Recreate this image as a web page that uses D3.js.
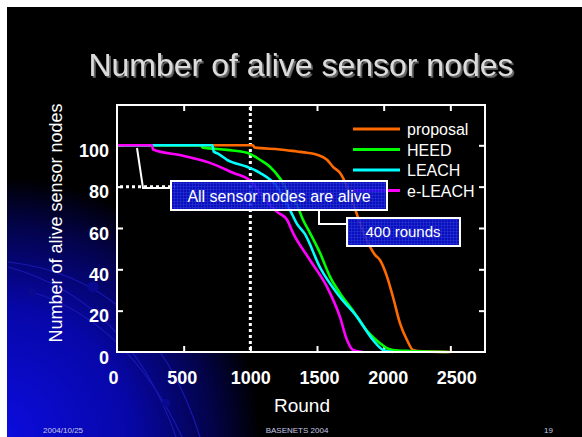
<!DOCTYPE html>
<html><head><meta charset="utf-8">
<script src="https://cdn.jsdelivr.net/npm/d3@7"></script>
<style>html,body{margin:0;padding:0;background:#000;}svg{display:block;font-family:"Liberation Sans",Arial,sans-serif;}</style>
</head><body><svg id="c" width="582" height="437"></svg>
<script>
// ---- data ----
const seriesNames = ["proposal", "HEED", "LEACH", "e-LEACH"];
const seriesColors = ["#ff6a00", "#00ff00", "#00ffff", "#ff00ff"];
const proposalRounds = [0,1020,1030,1222,1350,1425,1500,1575,1620,1672,1725,1770,1822,1860,1897,1935,1972,2025,2070,2122,2175,2220,2295,2500];
const proposalAlive  = [100,100,99,98,97,96.4,95.4,93,89.6,86.7,80,72,62.5,56,51,47,44.5,36.5,26.6,14,5.8,1,0.3,0];
const heedRounds = [0,630,640,825,975,1072,1147,1222,1297,1350,1395,1447,1522,1597,1672,1770,1870,1970,2020,2070,2200,2480];
const heedAlive  = [100,100,99,97.8,96.4,93,89.6,84,76,71,64,57.6,48,36.5,28.5,20,10.6,4.4,2,1,0.5,0];
const leachRounds = [0,715,725,757,825,975,1072,1200,1297,1350,1410,1522,1672,1800,1920,1995,2070];
const leachAlive  = [100,100,97,96,93,89.6,86.7,80,68.8,62,57,41,26.6,17,5.8,1,0];
const eleachRounds = [0,262,270,495,697,870,997,1125,1200,1275,1320,1447,1575,1672,1725,1770,1845];
const eleachAlive  = [100,100,98,95,91.5,86.7,83,72.6,67.8,64,57.6,44.5,31.5,17,5.8,1,0];
const xTicks = [0,500,1000,1500,2000,2500];
const yTicks = [0,20,40,60,80,100];
const titleText = "Number of alive sensor nodes";
const xTitle = "Round";
const yTitle = "Number of alive sensor nodes";
const markRound = 1000;   // vertical dotted line
const markAlive = 80;     // horizontal dotted line
const note1 = "All sensor nodes are alive";
const note2 = "400 rounds";
const footerLeft = "2004/10/25", footerMid = "BASENETS 2004", footerRight = "19";

const W = 582, H = 437;
const svg = d3.select("#c");
const defs = svg.append("defs");

// background
svg.append("rect").attr("width", W).attr("height", H).attr("fill", "#000");
const rg = defs.append("radialGradient").attr("id", "glow").attr("gradientUnits", "userSpaceOnUse")
  .attr("cx", 0).attr("cy", 437).attr("r", 260);
rg.append("stop").attr("offset", "0").attr("stop-color", "#0c0ce0");
rg.append("stop").attr("offset", "0.5").attr("stop-color", "#0707a8");
rg.append("stop").attr("offset", "0.82").attr("stop-color", "#030348");
rg.append("stop").attr("offset", "1").attr("stop-color", "#000");
svg.append("rect").attr("width", W).attr("height", H).attr("fill", "url(#glow)");
// decorative arcs
const arcs = [
  [[8,262],[150,278],[200,437]],
  [[8,267],[128,300],[176,437]],
  [[32,292],[128,322],[182,437]]
];
arcs.forEach(a => {
  const p = d3.path(); p.moveTo(...a[0]); p.quadraticCurveTo(...a[1], ...a[2]);
  svg.append("path").attr("d", p.toString()).attr("fill", "none").attr("stroke", "#1818b0").attr("stroke-width", 1.2);
});
[[93,287,5.5],[32,292,4],[166,403,4]].forEach(d => svg.append("circle").attr("cx", d[0]).attr("cy", d[1]).attr("r", d[2]).attr("fill", "#0a0a90"));
// white border strips
svg.append("rect").attr("x", 0).attr("y", 0).attr("width", W).attr("height", 7).attr("fill", "#fff");
svg.append("rect").attr("x", 0).attr("y", 0).attr("width", 7).attr("height", H).attr("fill", "#fff");

// title with embossed shadow
const sh = defs.append("filter").attr("id", "shadow").attr("x", "-5%").attr("y", "-20%").attr("width", "110%").attr("height", "140%");
sh.append("feDropShadow").attr("dx", 1.8).attr("dy", 1.8).attr("stdDeviation", 0.3).attr("flood-color", "#6a6a6a").attr("flood-opacity", 1);
svg.append("text").attr("x", 301).attr("y", 76).attr("text-anchor", "middle").attr("font-size", 32)
  .attr("fill", "#dcdcdc").attr("filter", "url(#shadow)").text(titleText);

// plot
const L = 117, R = 485, T = 105, B = 352;
const x = d3.scaleLinear().domain([0, 2760]).range([L, R]);
const y = d3.scaleLinear().domain([0, 119.5]).range([B, T]);
svg.append("rect").attr("x", L).attr("y", T).attr("width", R - L).attr("height", B - T).attr("fill", "#000");

// ticks (inward) on all sides
const tickStyle = g => { g.select(".domain").remove(); g.selectAll("line").attr("stroke", "#fff").attr("stroke-width", 2); g.selectAll("text").remove(); };
svg.append("g").attr("transform", `translate(0,${B})`).call(d3.axisTop(x).tickValues(xTicks.slice(1)).tickSize(6)).call(tickStyle);
svg.append("g").attr("transform", `translate(0,${T})`).call(d3.axisBottom(x).tickValues(xTicks.slice(1)).tickSize(6)).call(tickStyle);
svg.append("g").attr("transform", `translate(${L},0)`).call(d3.axisRight(y).tickValues(yTicks.slice(1)).tickSize(6)).call(tickStyle);
svg.append("g").attr("transform", `translate(${R},0)`).call(d3.axisLeft(y).tickValues(yTicks.slice(1)).tickSize(6)).call(tickStyle);

// tick labels
const labStyle = g => { g.select(".domain").remove(); g.selectAll("line").remove();
  g.selectAll("text").attr("fill", "#fff").attr("font-size", 18).attr("font-weight", "bold").attr("font-family", '"Liberation Sans",Arial,sans-serif'); };
svg.append("g").attr("transform", `translate(0,${B})`).call(d3.axisBottom(x).tickValues(xTicks).tickSize(0).tickPadding(19).tickFormat(d3.format("d"))).call(labStyle)
  .selectAll("text").attr("dx", d => (d / 2500) * 10 - 4);
svg.append("g").attr("transform", `translate(${L},0)`).call(d3.axisLeft(y).tickValues(yTicks).tickSize(0).tickPadding(8).tickFormat(d3.format("d"))).call(labStyle)
  .selectAll("text").attr("dy", "0.62em");

// axis titles
svg.append("text").attr("x", 302).attr("y", 412).attr("text-anchor", "middle").attr("font-size", 19).attr("fill", "#fff").text(xTitle);
svg.append("text").attr("transform", "translate(62,223) rotate(-90)").attr("text-anchor", "middle").attr("font-size", 18).attr("fill", "#fff").text(yTitle);

// reference dotted lines
svg.append("line").attr("x1", x(markRound)).attr("x2", x(markRound)).attr("y1", T + 2).attr("y2", B - 1)
  .attr("stroke", "#fff").attr("stroke-width", 3).attr("stroke-dasharray", "3,3");
svg.append("line").attr("x1", L + 3).attr("x2", 175).attr("y1", y(markAlive)).attr("y2", y(markAlive))
  .attr("stroke", "#fff").attr("stroke-width", 3).attr("stroke-dasharray", "3,3");

// series
const series = [
  {name: seriesNames[0], color: seriesColors[0], r: proposalRounds, v: proposalAlive},
  {name: seriesNames[1], color: seriesColors[1], r: heedRounds, v: heedAlive},
  {name: seriesNames[2], color: seriesColors[2], r: leachRounds, v: leachAlive},
  {name: seriesNames[3], color: seriesColors[3], r: eleachRounds, v: eleachAlive}
];
const line = d3.line().x(d => x(d[0])).y(d => y(d[1])).curve(d3.curveMonotoneX);
series.forEach(s => {
  svg.append("path").datum(s.r.map((r, i) => [r, s.v[i]])).attr("d", line)
    .attr("fill", "none").attr("stroke", s.color).attr("stroke-width", 2.6).attr("stroke-linejoin", "round");
});

// frame
svg.append("rect").attr("x", L).attr("y", T).attr("width", R - L).attr("height", B - T)
  .attr("fill", "none").attr("stroke", "#fff").attr("stroke-width", 2);

// legend
const leg = svg.append("g");
series.forEach((s, i) => {
  const ly = 129 + i * 20.5;
  leg.append("line").attr("x1", 353).attr("x2", 400).attr("y1", ly).attr("y2", ly).attr("stroke", s.color).attr("stroke-width", 3);
  leg.append("text").attr("x", 407).attr("y", ly + 6).attr("font-size", 16).attr("fill", "#fff").text(s.name);
});

// annotation boxes
const pat = defs.append("pattern").attr("id", "grid").attr("width", 3).attr("height", 3).attr("patternUnits", "userSpaceOnUse");
pat.append("rect").attr("width", 3).attr("height", 3).attr("fill", "#0c10d8");
pat.append("path").attr("d", "M0,0.5H3M0.5,0V3").attr("stroke", "#2a3cf0").attr("stroke-width", 0.6);

// leader lines
svg.append("path").attr("d", "M137,148L143,188L172,188").attr("fill", "none").attr("stroke", "#fff").attr("stroke-width", 2);
svg.append("path").attr("d", "M319,210L319,224L348,224").attr("fill", "none").attr("stroke", "#fff").attr("stroke-width", 2);

svg.append("rect").attr("x", 171).attr("y", 181).attr("width", 216).attr("height", 29)
  .attr("fill", "url(#grid)").attr("fill-opacity", 0.88).attr("stroke", "#fff").attr("stroke-width", 2);
svg.append("text").attr("x", 279).attr("y", 202).attr("text-anchor", "middle").attr("font-size", 16).attr("fill", "#fff").text(note1);
svg.append("rect").attr("x", 347).attr("y", 218).attr("width", 113).attr("height", 28)
  .attr("fill", "url(#grid)").attr("fill-opacity", 0.88).attr("stroke", "#fff").attr("stroke-width", 2);
svg.append("text").attr("x", 403).attr("y", 237).attr("text-anchor", "middle").attr("font-size", 15).attr("fill", "#fff").text(note2);

// footer
const ft = (tx, xx, anchor) => svg.append("text").attr("x", xx).attr("y", 433).attr("text-anchor", anchor)
  .attr("font-size", 8).attr("fill", "#c8c8e8").text(tx);
ft(footerLeft, 43, "start");
ft(footerMid, 297, "middle");
ft(footerRight, 553, "end");
</script></body></html>
